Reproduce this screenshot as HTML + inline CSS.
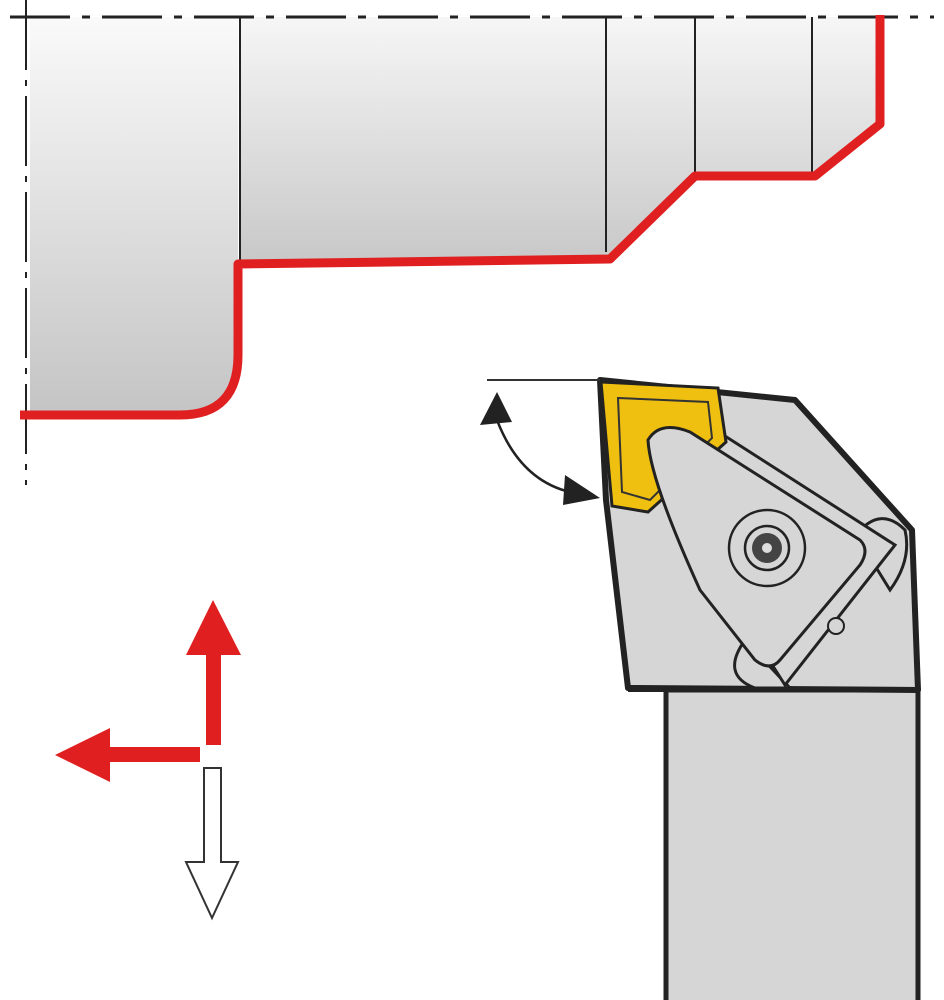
<!DOCTYPE html>
<html><head><style>html,body{margin:0;padding:0;background:#fff;}svg{display:block}</style></head>
<body>
<svg width="944" height="1000" viewBox="0 0 944 1000" xmlns="http://www.w3.org/2000/svg">
<defs>
<linearGradient id="g" x1="0" y1="0" x2="0" y2="1">
<stop offset="0" stop-color="#fafafa"/><stop offset="1" stop-color="#c4c4c4"/>
</linearGradient>
<linearGradient id="g2" x1="0" y1="0" x2="0" y2="1">
<stop offset="0" stop-color="#f6f6f6"/><stop offset="1" stop-color="#c8c8c8"/>
</linearGradient>
</defs>
<path d="M30,17 H238 V360 Q238,415 180,415 H30 Z" fill="url(#g)"/>
<path d="M240,17 H880 V120 L815,178 H695 L610,258 L240,262 Z" fill="url(#g2)"/>
<path d="M10,17 H934" stroke="#222" stroke-width="3" stroke-dasharray="60,12,8,12"/>
<path d="M26,0 V485" stroke="#222" stroke-width="2" stroke-dasharray="70,10,6,10"/>
<g stroke="#222" stroke-width="2">
<line x1="240" y1="17" x2="240" y2="262"/>
<line x1="606" y1="17" x2="606" y2="252"/>
<line x1="695" y1="17" x2="695" y2="176"/>
<line x1="812" y1="17" x2="812" y2="172"/>
</g>
<path d="M20,415 H180 Q238,415 238,355 V264 L610,259 L695,176 H815 L880,124 V15" fill="none" stroke="#e02020" stroke-width="9" stroke-linejoin="round"/>
<rect x="666" y="690" width="252" height="320" fill="#d6d6d6" stroke="#222" stroke-width="5"/>
<path d="M600,380 L795,400 L912,530 L918,690 L628,688 L606,500 Z" fill="#d6d6d6" stroke="#222" stroke-width="6" stroke-linejoin="round"/>
<line x1="628" y1="690" x2="918" y2="690" stroke="#222" stroke-width="4"/>
<path d="M856,535 Q880,505 905,530 Q912,560 890,590 Z" fill="#d6d6d6" stroke="#222" stroke-width="3"/>
<path d="M745,640 Q720,675 755,688 L790,688 Z" fill="#d6d6d6" stroke="#222" stroke-width="3"/>
<path d="M700,420 L895,545 L785,685 L750,630 Z" fill="#d6d6d6" stroke="#222" stroke-width="3"/>
<path d="M601,382 L718,388 L726,442 L648,512 L612,506 Z" fill="#f0c010" stroke="#222" stroke-width="3"/>
<path d="M618,398 L708,402 L712,438 L650,500 L622,492 Z" fill="none" stroke="#333" stroke-width="2"/>
<path d="M648,440 Q660,420 690,432 L860,540 Q870,550 860,565 L780,660 Q770,672 755,660 L700,590 Q650,480 648,440 Z" fill="#d6d6d6" stroke="#222" stroke-width="3"/>
<circle cx="767" cy="548" r="38" fill="#d6d6d6" stroke="#222" stroke-width="2.5"/>
<circle cx="767" cy="548" r="22" fill="#d6d6d6" stroke="#222" stroke-width="2.5"/>
<circle cx="767" cy="548" r="15" fill="#444"/>
<circle cx="767" cy="548" r="5" fill="#ddd"/>
<circle cx="836" cy="626" r="8" fill="#d6d6d6" stroke="#222" stroke-width="2"/>
<line x1="487" y1="380" x2="600" y2="380" stroke="#333" stroke-width="2"/>
<path d="M497,420 Q520,480 570,492" fill="none" stroke="#222" stroke-width="2.5"/>
<polygon points="497,392 480,425 512,422" fill="#222"/>
<polygon points="600,498 565,475 563,505" fill="#222"/>
<rect x="206" y="650" width="15" height="95" fill="#e02020"/>
<polygon points="213,600 186,655 241,655" fill="#e02020"/>
<rect x="105" y="747" width="95" height="15" fill="#e02020"/>
<polygon points="55,755 110,728 110,782" fill="#e02020"/>
<path d="M204,768 H221 V862 H238 L212,918 L186,862 H204 Z" fill="#fff" stroke="#333" stroke-width="2"/>
</svg>
</body></html>
